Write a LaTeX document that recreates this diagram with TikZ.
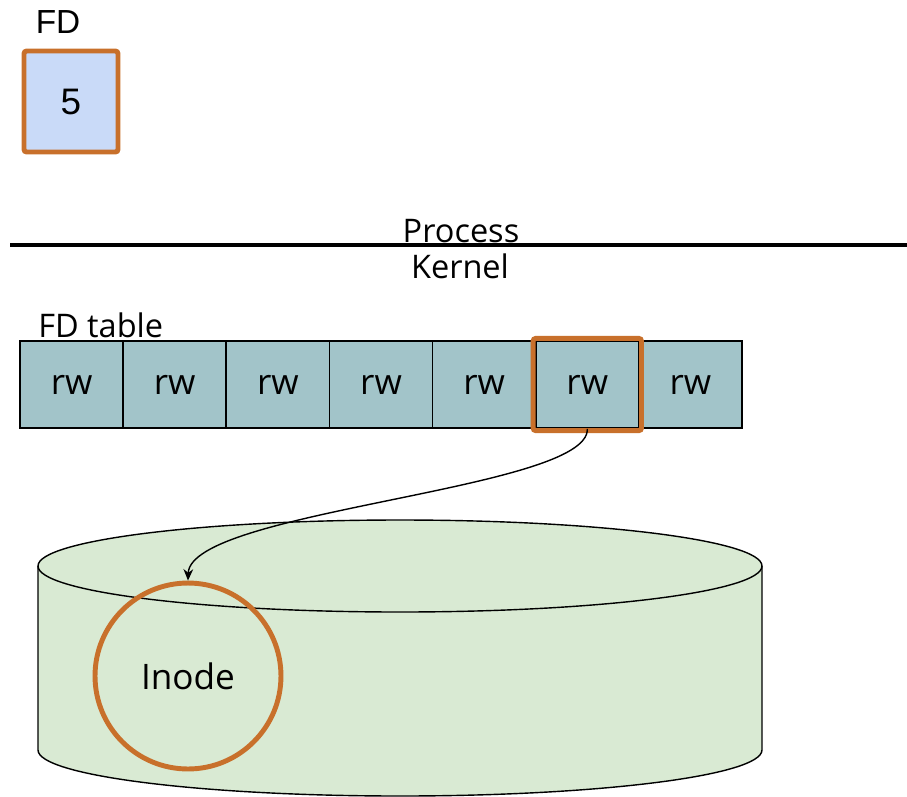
\documentclass[tikz,border=0pt]{standalone}
\usepackage{fontspec}
\usetikzlibrary{arrows.meta}
\setmainfont{Open Sans}
\newfontfamily\arialfont{Liberation Sans}
\definecolor{hiorange}{HTML}{C8702B}
\definecolor{fdblue}{HTML}{C9DAF8}
\definecolor{cellteal}{HTML}{A2C4C9}
\definecolor{diskgreen}{HTML}{D9EAD3}
\begin{document}
\begin{tikzpicture}[x=0.02cm,y=-0.02cm,
  labeltext/.style={font=\fontsize{18.5}{22}\selectfont, inner sep=0pt},
  fdbox/.style={draw=hiorange, line width=2.8pt, fill=fdblue, rounded corners=1.5pt,
    minimum width=1.88cm, minimum height=2.02cm, inner sep=0pt,
    font=\arialfont\fontsize{21}{25}\selectfont},
  cell/.style={draw=black, line width=1pt, fill=cellteal,
    minimum width=2.063cm, minimum height=1.74cm, inner sep=0pt,
    font=\fontsize{20}{24}\selectfont},
  hilite/.style={draw=hiorange, line width=2.8pt, rounded corners=1.5pt},
  inodering/.style={circle, draw=hiorange, line width=2.8pt, minimum size=3.72cm,
    inner sep=0pt, font=\fontsize{20}{24}\selectfont},
  link/.style={line width=0.8pt, -{Stealth[length=6.5pt,width=5.5pt]}}
]
\useasboundingbox (0,0) rectangle (907,796);

% user-space file descriptor
\node[font=\arialfont\fontsize{19}{23}\selectfont, inner sep=0pt] (fdlabel) at (58,22) {FD};
\node[fdbox] (fd) at (71,101.5) {5};

% process / kernel boundary
\coordinate (bl) at (10,245);
\coordinate (br) at (907,245);
\draw[line width=2.6pt] (bl) -- (br);
\node[labeltext, anchor=base] (proc) at (461,242) {Process};
\node[labeltext] (kern) at (460,266) {Kernel};

% file descriptor table
\node[labeltext, anchor=west] (fdt) at (38,325) {FD table};
\foreach \i/\x in {1/71.6,2/174.7,3/277.9,4/381,5/484.1,6/587.3,7/690.4}{
  \node[cell] (c\i) at (\x,384.5) {rw};
}
\draw[hilite] ([xshift=-1pt,yshift=1pt]c6.north west) rectangle ([xshift=1pt,yshift=-1pt]c6.south east);

% disk cylinder
\fill[diskgreen] (38,566) -- (38,750) arc[start angle=180, end angle=0, x radius=362, y radius=46]
  -- (762,566) arc[start angle=0, end angle=-180, x radius=362, y radius=46] -- cycle;
\draw[line width=0.8pt] (38,566) -- (38,750) arc[start angle=180, end angle=0, x radius=362, y radius=46] -- (762,566);
\draw[line width=0.8pt] (400,566) ellipse[x radius=362, y radius=46];

% inode on disk
\node[inodering] (inode) at (188,676) {Inode};

% reference from table entry to inode
\draw[link] (c6.south) .. controls (590,490) and (190,510) .. (inode.north);
\end{tikzpicture}
\end{document}
